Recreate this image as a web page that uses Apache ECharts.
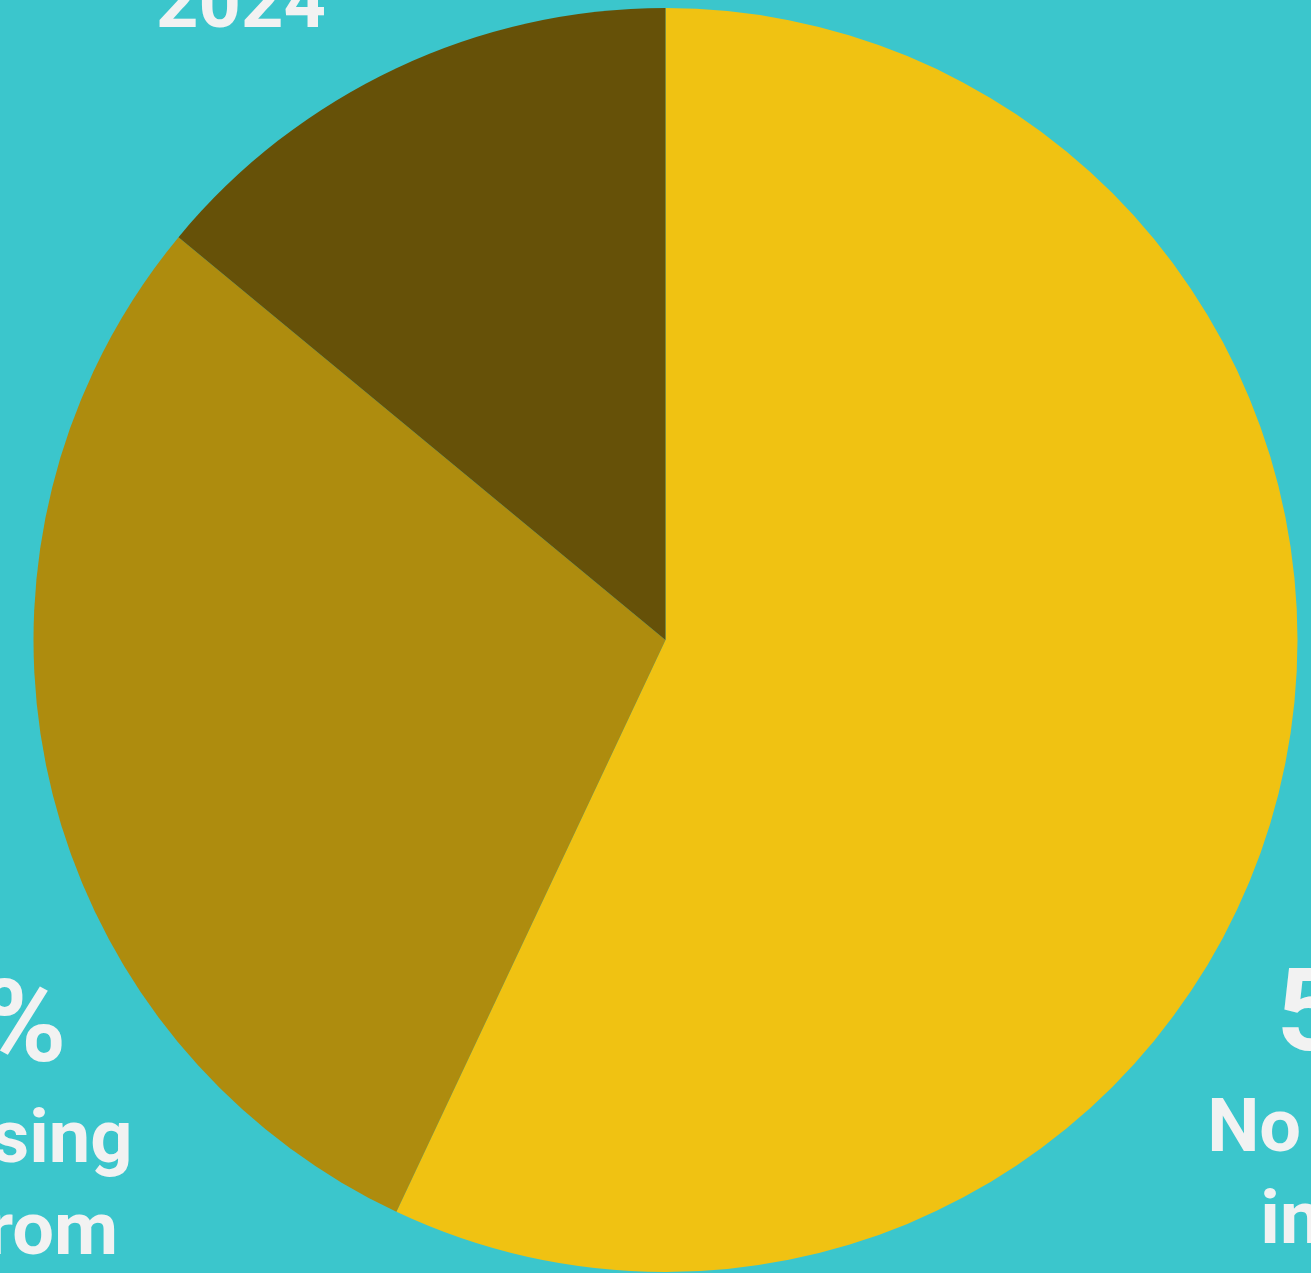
<!DOCTYPE html>
<html>
<head>
<meta charset="utf-8">
<script src="https://cdn.jsdelivr.net/npm/echarts@6/dist/echarts.min.js"></script>
<style>
  html, body { margin: 0; padding: 0; background: #3BC6CC; overflow: hidden; }
  #chart { width: 1311px; height: 1273px; }
</style>
</head>
<body>
<div id="chart"></div>
<script>
// Share of respondents by change in 2024
const categories = ['No change in 2024', 'Increasing cost from 2023', 'Decreasing in 2024'];
const captionLine1 = ['No change', 'Increasing', 'Decreasing in'];
const captionLine2 = ['in 2024', 'cost from', '2024'];
const shares = [57, 29, 14];
const sliceColors = ['#F0C212', '#AE8C0E', '#665108'];

// Where each caption block sits (centre x, top y), in chart pixels
const captionAnchors = [
  { x: 1385, y: 956 },
  { x: -42, y: 967 },
  { x: 241, y: -260 }
];

const chart = echarts.init(document.getElementById('chart'), null, { renderer: 'canvas' });

chart.setOption({
  backgroundColor: '#3BC6CC',
  animation: false,
  series: [{
    type: 'pie',
    center: [665.5, 640],
    radius: [0, 632],
    startAngle: 90,
    clockwise: true,
    avoidLabelOverlap: false,
    data: categories.map((name, i) => ({
      name: name,
      value: shares[i],
      itemStyle: { color: sliceColors[i] }
    })),
    label: {
      show: true,
      position: 'outside',
      formatter: p => '{big|' + p.value + '%}\n{txt|' + captionLine1[p.dataIndex] + '}\n{txt|' + captionLine2[p.dataIndex] + '}',
      align: 'center',
      rich: {
        big: {
          fontFamily: 'Roboto', fontWeight: 'bold', fontSize: 115,
          lineHeight: 130, color: '#F2F2F2', align: 'center'
        },
        txt: {
          fontFamily: 'Roboto', fontWeight: 'bold', fontSize: 74,
          lineHeight: 92, color: '#F2F2F2', align: 'center'
        }
      }
    },
    labelLine: { show: false },
    labelLayout: function (params) {
      const a = captionAnchors[params.dataIndex];
      return { x: a.x, y: a.y, align: 'center', verticalAlign: 'top' };
    },
    emphasis: { disabled: true }
  }]
});
</script>
</body>
</html>
